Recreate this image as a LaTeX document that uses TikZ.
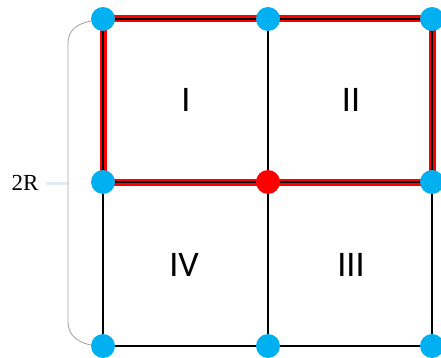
\documentclass[tikz,border=0pt]{standalone}
\usepackage{fontspec}
\setmainfont{Liberation Serif}
\newfontfamily\numfont{Carlito}
\definecolor{dotblue}{HTML}{00B0F0}
\definecolor{bracegray}{HTML}{A6A6A6}
\definecolor{tickblue}{HTML}{E3ECF4}
\begin{document}
\begin{tikzpicture}[x=1pt, y=-1pt,
	dot/.style={circle, fill=dotblue, inner sep=0pt, minimum size=24pt},
	grid/.style={line width=1.6pt, black},
	redline/.style={line width=7pt, red, line join=miter},
	area/.style={font=\numfont\fontsize{36}{36}\selectfont}]
		\useasboundingbox (0,0) rectangle (441,358);
		% 1. 定义格点坐标
		\coordinate (A) at (103,19);
		\coordinate (B) at (268,19);
		\coordinate (C) at (432,19);
		\coordinate (D) at (103,182);
		\coordinate (O) at (268,182);
		\coordinate (E) at (432,182);
		\coordinate (F) at (103,346);
		\coordinate (G) at (268,346);
		\coordinate (H) at (432,346);
		
		% 2. 左侧括号与 2R
		\coordinate (bt) at (91,21);
		\coordinate (bb) at (91,345);
		\coordinate (t1) at (46,183);
		\coordinate (t2) at (68,183);
		\draw[tickblue, line width=3pt] (t1) -- (t2);
		\draw[bracegray, line width=0.9pt] (bt) .. controls (76,24) and (68,31) .. (68,43)
			-- (68,322) .. controls (68,334) and (76,342) .. (bb);
		\node[font=\fontsize{23}{23}\selectfont] (lR) at (25,183) {2R};
		
		% 3. 黑色网格线
		\draw[grid] (A) -- (C) (D) -- (E) (F) -- (H);
		\draw[grid] (A) -- (F) (B) -- (G) (C) -- (H);
		
		% 4. 红色粗线（上半部分矩形）
		\draw[redline] (A) -- (C) -- (E) -- (D) -- cycle;
		\draw[grid] (A) -- (C) -- (E) -- (D) -- cycle;
		
		% 5. 区域编号
		\node[area] (n1) at (186,100) {I};
		\node[area] (n2) at (351,100) {II};
		\node[area] (n4) at (184,265) {IV};
		\node[area] (n3) at (351,265) {III};
		
		% 6. 格点圆点
		\node[dot] (dA) at (A) {};
		\node[dot] (dB) at (B) {};
		\node[dot] (dC) at (C) {};
		\node[dot] (dD) at (D) {};
		\node[dot, fill=red] (dO) at (O) {};
		\node[dot] (dE) at (E) {};
		\node[dot] (dF) at (F) {};
		\node[dot] (dG) at (G) {};
		\node[dot] (dH) at (H) {};
	\end{tikzpicture}
\end{document}
